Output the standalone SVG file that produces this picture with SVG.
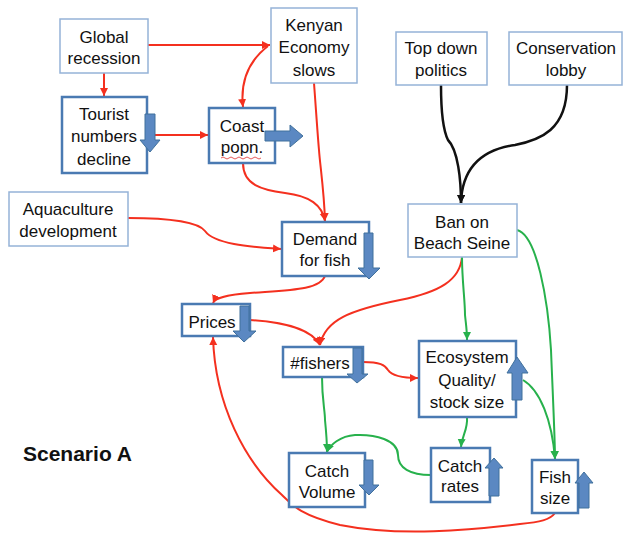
<svg xmlns="http://www.w3.org/2000/svg" width="623" height="536" viewBox="0 0 623 536">
<defs>
<style>
.lt{fill:#fff;stroke:#95b3d7;stroke-width:1.5}
.dk{fill:#fff;stroke:#4a7ab2;stroke-width:2.5}
.t{font-family:"Liberation Sans",Arial,sans-serif;font-size:17px;fill:#111;text-anchor:middle}
.ba{fill:#5b88c2;stroke:#41719c;stroke-width:1}
.r{fill:none;stroke:#f4301f;stroke-width:2}
.g{fill:none;stroke:#27b14c;stroke-width:2}
.k{fill:none;stroke:#111;stroke-width:2.5}
</style>
<marker id="mr" markerUnits="userSpaceOnUse" markerWidth="10" markerHeight="10" refX="8" refY="4" orient="auto"><path d="M0,0 L8,4 L0,8 Z" fill="#f4301f"/></marker>
<marker id="mg" markerUnits="userSpaceOnUse" markerWidth="10" markerHeight="10" refX="8" refY="4" orient="auto"><path d="M0,0 L8,4 L0,8 Z" fill="#27b14c"/></marker>
<marker id="mk" markerUnits="userSpaceOnUse" markerWidth="10" markerHeight="10" refX="8" refY="4" orient="auto"><path d="M0,0 L8,4 L0,8 Z" fill="#111"/></marker>
</defs>
<rect width="623" height="536" fill="#fff"/>
<g id="connectors">
<path class="r" d="M148,45 L270,45" marker-end="url(#mr)"/>
<path class="r" d="M104,73 L104,96" marker-end="url(#mr)"/>
<path class="r" d="M155,135 L208,135" marker-end="url(#mr)"/>
<path class="r" d="M268,46 C250,60 240,80 243,107" marker-end="url(#mr)"/>
<path class="r" d="M314,83 C316,110 318,140 319,150 C320,165 324,190 325,221" marker-end="url(#mr)"/>
<path class="r" d="M243,163 C243,185 262,190 285,193 C310,196 322,205 325,221" marker-end="url(#mr)"/>
<path class="r" d="M128,218 C170,218 198,222 205,231 C215,245 255,247 281,249" marker-end="url(#mr)"/>
<path class="r" d="M325,276 C320,290 290,290 250,293 C225,295 215,298 213,303" marker-end="url(#mr)"/>
<path class="r" d="M250,320 C285,322 312,330 320,345" marker-end="url(#mr)"/>
<path class="r" d="M462,257 C460,280 440,292 400,300 C350,310 325,320 320,345" marker-end="url(#mr)"/>
<path class="r" d="M363,362 C380,362 385,365 388,370 C392,376 405,378 418,378" marker-end="url(#mr)"/>
<path class="r" d="M555,513 C550,520 540,522 520,524 C470,530 400,537 340,525 C300,515 292,505 282,495 C245,462 215,405 213,337" marker-end="url(#mr)"/>
<path class="g" d="M462,257 C462,280 465,300 465,315 C466,325 467,330 467,340" marker-end="url(#mg)"/>
<path class="g" d="M517,230 C537,235 548,300 551,350 C553,400 555,440 555,459" marker-end="url(#mg)"/>
<path class="g" d="M523,380 C540,390 552,420 555,459" marker-end="url(#mg)"/>
<path class="g" d="M467,417 C468,430 462,435 461,447" marker-end="url(#mg)"/>
<path class="g" d="M322,377 C322,400 325,410 325,420 C326,430 327,440 327,452" marker-end="url(#mg)"/>
<path class="g" d="M431,475 C410,475 398,468 398,455 C398,440 375,434 355,435 C340,436 330,445 327,452" marker-end="url(#mg)"/>
<path class="k" d="M441,85 C441,110 443,130 448,140 C458,150 461,180 461,203" marker-end="url(#mk)"/>
<path class="k" d="M567,85 C567,130 540,140 515,145 C480,150 462,170 461,203" marker-end="url(#mk)"/>
</g>
<g id="global"><rect class="lt" x="60" y="19" width="88" height="54"/><text class="t" x="104" y="43">Global</text><text class="t" x="104" y="64">recession</text></g>
<g id="kenyan"><rect class="lt" x="271" y="8" width="86" height="75"/><text class="t" x="314" y="31">Kenyan</text><text class="t" x="314" y="53">Economy</text><text class="t" x="314" y="76">slows</text></g>
<g id="tourist"><rect class="dk" x="62" y="97" width="85" height="76"/><text class="t" x="104" y="120">Tourist</text><text class="t" x="104" y="142">numbers</text><text class="t" x="104" y="165">decline</text><polygon class="ba" points="145,114 155,114 155,140 160,140 150,152 140,140 145,140"/></g>
<g id="coast"><rect class="dk" x="209" y="108" width="66" height="55"/><text class="t" x="242" y="132">Coast</text><text class="t" x="242" y="153">popn.</text><path d="M221,158 q2,-2 4,0 t4,0 t4,0 t4,0 t4,0 t4,0 t4,0 t4,0 t4,0 t4,0" fill="none" stroke="#e03030" stroke-width="0.8"/><polygon class="ba" points="265,131 290,131 290,125 303,136 290,147 290,141 265,141"/></g>
<g id="aquaculture"><rect class="lt" x="9" y="192" width="119" height="54"/><text class="t" x="68" y="215">Aquaculture</text><text class="t" x="68" y="237">development</text></g>
<g id="demand"><rect class="dk" x="282" y="222" width="87" height="54"/><text class="t" x="325" y="245">Demand</text><text class="t" x="325" y="266">for fish</text><polygon class="ba" points="364,233 373,233 373,268 380,268 369,279 358,268 364,268"/></g>
<g id="topdown"><rect class="lt" x="396" y="32" width="91" height="53"/><text class="t" x="441" y="54">Top down</text><text class="t" x="441" y="76">politics</text></g>
<g id="conservation"><rect class="lt" x="509" y="32" width="113" height="53"/><text class="t" x="566" y="54">Conservation</text><text class="t" x="566" y="76">lobby</text></g>
<g id="ban"><rect class="lt" x="408" y="204" width="109" height="53"/><text class="t" x="462" y="228">Ban on</text><text class="t" x="462" y="249">Beach Seine</text></g>
<g id="prices"><rect class="dk" x="182" y="304" width="68" height="32"/><text class="t" x="212" y="328">Prices</text><polygon class="ba" points="240,306 249,306 249,331 256,331 244,342 233,331 240,331"/></g>
<g id="fishers"><rect class="dk" x="283" y="347" width="80" height="30"/><text class="t" x="320" y="369">#fishers</text><polygon class="ba" points="353,348 362,348 362,374 368,374 357,383 347,374 353,374"/></g>
<g id="ecosystem"><rect class="dk" x="419" y="341" width="97" height="76"/><text class="t" x="467" y="363">Ecosystem</text><text class="t" x="467" y="386">Quality/</text><text class="t" x="467" y="408">stock size</text><polygon class="ba" points="517,357 528,373 522,373 522,400 512,400 512,373 507,373"/></g>
<g id="catchvolume"><rect class="dk" x="289" y="453" width="76" height="54"/><text class="t" x="327" y="477">Catch</text><text class="t" x="327" y="498">Volume</text><polygon class="ba" points="364,460 373,460 373,485 379,485 369,495 359,485 364,485"/></g>
<g id="catchrates"><rect class="dk" x="431" y="448" width="59" height="54"/><text class="t" x="460" y="472">Catch</text><text class="t" x="460" y="492">rates</text><polygon class="ba" points="494,458 503,468 499,468 499,496 489,496 489,468 485,468"/></g>
<g id="fishsize"><rect class="dk" x="532" y="460" width="46" height="53"/><text class="t" x="555" y="483">Fish</text><text class="t" x="555" y="504">size</text><polygon class="ba" points="584,472 593,483 589,483 589,508 579,508 579,483 575,483"/></g>
<text x="23" y="461" font-family="'Liberation Sans',Arial,sans-serif" font-size="21" font-weight="bold" fill="#111">Scenario A</text>
</svg>
